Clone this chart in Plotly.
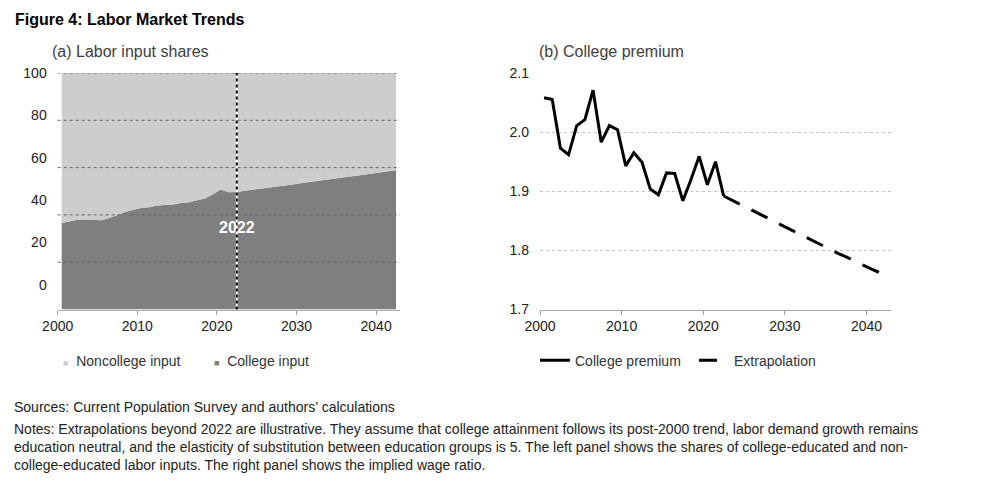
import plotly.graph_objects as go

# Data
years = list(range(2000, 2043))
college_share = [
    36.6, 37.3, 38.0, 38.1, 37.8, 37.7, 38.7, 40.0, 41.2, 42.2,
    42.9, 43.2, 44.0, 44.2, 44.4, 45.0, 45.4, 46.2, 46.9, 48.7,
    50.7, 49.6, 49.7, 50.2, 50.6, 51.1, 51.5, 52.0, 52.5, 52.9,
    53.4, 53.8, 54.3, 54.8, 55.2, 55.7, 56.1, 56.6, 57.1, 57.5,
    58.0, 58.4, 58.9,
]
noncollege_share = [100 - v for v in college_share]

premium_years = list(range(2000, 2023))
premium = [
    2.058, 2.055, 1.973, 1.962, 2.011, 2.021, 2.071, 1.983, 2.011, 2.004,
    1.943, 1.965, 1.949, 1.904, 1.894, 1.931, 1.930, 1.884, 1.920, 1.959,
    1.911, 1.950, 1.892,
]
extrap_years = list(range(2022, 2043))
extrap = [
    1.892, 1.885, 1.878, 1.871, 1.864, 1.857, 1.850, 1.843, 1.836, 1.829,
    1.822, 1.815, 1.809, 1.802, 1.795, 1.789, 1.782, 1.776, 1.769, 1.763,
    1.757,
]
cutoff_year = 2022
x_ticks = [2000, 2010, 2020, 2030, 2040]
share_ticks = ["100", "80", "60", "40", "20", "0"]

FONT = "Liberation Sans, Arial, sans-serif"
DARK = "#7f7f82"
LIGHT = "#cdcdcd"

# the page body adds an 8px margin, so the figure is sized to fit inside the window
W, H, PAD = 983, 477, 8
px = lambda x: (x - PAD) / W          # window x -> paper x
py = lambda y: 1 - (y - PAD) / H      # window y -> paper y

fig = go.Figure()

# mid-year placement, like the original category axis
mid = lambda ys: [y + 0.5 for y in ys]

# (a) stacked areas
fig.add_trace(go.Scatter(
    x=mid(years), y=college_share, stackgroup="shares", mode="lines",
    line=dict(width=0), fillcolor=DARK, showlegend=False, hoverinfo="skip",
    xaxis="x", yaxis="y",
))
fig.add_trace(go.Scatter(
    x=mid(years), y=noncollege_share, stackgroup="shares", mode="lines",
    line=dict(width=0), fillcolor=LIGHT, showlegend=False, hoverinfo="skip",
    xaxis="x", yaxis="y",
))
# legend entries for (a): small square glyph sits right next to the label
for name, color in [("Noncollege input", LIGHT), ("College input", DARK)]:
    fig.add_trace(go.Scatter(
        x=[None], y=[None], mode="markers",
        name=f"<span style='color:{color};font-size:9px'>■</span>&nbsp; {name}",
        marker=dict(symbol="square", size=5, color="rgba(0,0,0,0)"), legend="legend",
        xaxis="x", yaxis="y",
    ))

# (b) college premium
fig.add_trace(go.Scatter(
    x=mid(premium_years), y=premium, mode="lines", name="College premium",
    line=dict(color="black", width=3), legend="legend2",
    xaxis="x2", yaxis="y2",
))
fig.add_trace(go.Scatter(
    x=mid(extrap_years), y=extrap, mode="lines", name="Extrapolation",
    line=dict(color="black", width=3, dash="18px,13px"), legend="legend2",
    xaxis="x2", yaxis="y2",
))

axis_common = dict(
    range=[2000, 2043], tickvals=x_ticks, ticks="outside", ticklen=4,
    tickcolor="#999999", showline=True, linecolor="#aaaaaa", linewidth=1,
    showgrid=False, zeroline=False, automargin=False,
    tickfont=dict(size=14, color="#222222"),
)
y_dom = [py(309.5), py(73)]

fig.update_layout(
    template="none",
    width=W, height=H,
    margin=dict(l=0, r=0, t=0, b=0, autoexpand=False),
    paper_bgcolor="white", plot_bgcolor="white",
    font=dict(family=FONT, color="#222222"),
    xaxis=dict(domain=[px(57.7), px(400)], anchor="y", **axis_common),
    yaxis=dict(
        domain=y_dom, anchor="x", range=[0, 100],
        # labels sit a little off the grid in the original
        tickvals=[100, 82.1, 64.2, 46.3, 28.4, 10.5], ticktext=share_ticks,
        showgrid=False, zeroline=False, showline=False, ticks="", automargin=False,
        ticklabelstandoff=10, tickfont=dict(size=14, color="#222222"),
    ),
    xaxis2=dict(domain=[px(540), px(891)], anchor="y2", **axis_common),
    yaxis2=dict(
        domain=y_dom, anchor="x2", range=[1.7, 2.1],
        tickvals=[1.7, 1.8, 1.9, 2.0, 2.1], tickformat=".1f",
        showgrid=True, gridcolor="#c4c4c4", griddash="dot", gridwidth=1,
        zeroline=False, showline=False, ticks="", automargin=False,
        ticklabelstandoff=10, tickfont=dict(size=14, color="#222222"),
    ),
    legend=dict(
        orientation="h", x=px(23), y=py(360.7), xanchor="left", yanchor="middle",
        traceorder="normal", font=dict(size=14, color="#333333"),
        itemwidth=30, entrywidth=106, bgcolor="rgba(0,0,0,0)",
    ),
    legend2=dict(
        orientation="h", x=px(535), y=py(360.7), xanchor="left", yanchor="middle",
        traceorder="normal", font=dict(size=14, color="#333333"),
        itemwidth=30, entrywidth=114, bgcolor="rgba(0,0,0,0)",
    ),
)

# dotted grid drawn over the areas in panel (a)
for g in [20, 40, 60, 80, 100]:
    fig.add_shape(type="line", xref="x domain", yref="y", x0=0, x1=1, y0=g, y1=g,
                  line=dict(color="#666666", width=1, dash="dot"), layer="above")

# 2022 marker line
fig.add_shape(type="line", xref="x", yref="y domain", x0=cutoff_year + 0.5, x1=cutoff_year + 0.5,
              y0=0, y1=1, line=dict(color="white", width=2), layer="above")
fig.add_shape(type="line", xref="x", yref="y domain", x0=cutoff_year + 0.5, x1=cutoff_year + 0.5,
              y0=0, y1=1, line=dict(color="black", width=2, dash="dot"), layer="above")
fig.add_annotation(x=cutoff_year + 0.5, y=34.7, xref="x", yref="y", text=f"<b>{cutoff_year}</b>",
                   showarrow=False, font=dict(size=16, color="white", family=FONT))

# titles and notes
fig.add_annotation(x=px(13), y=py(20), xref="paper", yref="paper", xanchor="left",
                   yanchor="middle", showarrow=False, text="<b>Figure 4: Labor Market Trends</b>",
                   font=dict(size=16, color="black"))
fig.add_annotation(x=px(50), y=py(51), xref="paper", yref="paper", xanchor="left",
                   yanchor="middle", showarrow=False, text="(a) Labor input shares",
                   font=dict(size=16, color="#404040"))
fig.add_annotation(x=px(537), y=py(51), xref="paper", yref="paper", xanchor="left",
                   yanchor="middle", showarrow=False, text="(b) College premium",
                   font=dict(size=16, color="#404040"))
fig.add_annotation(x=px(12), y=py(407), xref="paper", yref="paper", xanchor="left",
                   yanchor="middle", showarrow=False,
                   text="Sources: Current Population Survey and authors’ calculations",
                   font=dict(size=14, color="#222222"))
fig.add_annotation(
    x=px(12), y=py(447), xref="paper", yref="paper", xanchor="left", yanchor="middle",
    align="left", showarrow=False, font=dict(size=14, color="#222222"),
    text=("Notes: Extrapolations beyond 2022 are illustrative. They assume that college attainment "
          "follows its post-2000 trend, labor demand growth remains<br>"
          "education neutral, and the elasticity of substitution between education groups is 5. "
          "The left panel shows the shares of college-educated and non-<br>"
          "college-educated labor inputs. The right panel shows the implied wage ratio."),
)

fig.write_html("out.html")
